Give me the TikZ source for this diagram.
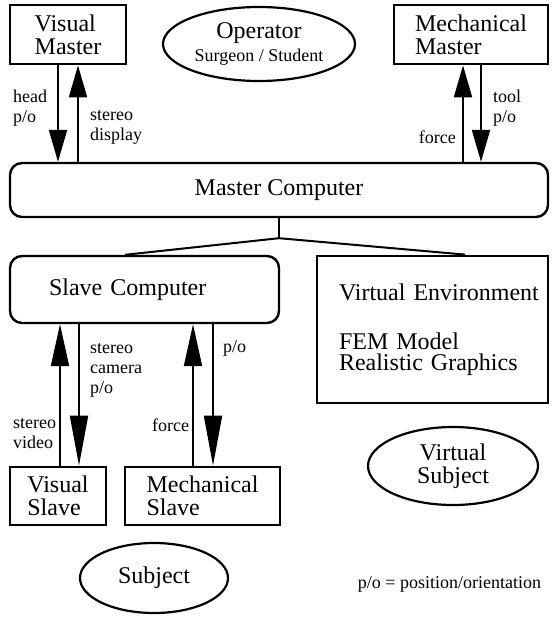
\documentclass[tikz,border=0pt]{standalone}
\usepackage{fontspec}
\setmainfont{Liberation Serif}
\usetikzlibrary{positioning, arrows.meta, shapes.geometric}

\begin{document}
\begin{tikzpicture}[
        x=1pt, y=-1pt,
        box/.style={rectangle, draw, line width=2.8pt, align=left, inner sep=0pt, font=\fontsize{24}{23}\selectfont},
        computer/.style={rectangle, draw, rounded corners=12pt, line width=2.4pt, align=left, inner sep=0pt, font=\fontsize{24}{23}\selectfont},
        oval/.style={ellipse, draw, line width=2.2pt, align=center, inner sep=0pt, font=\fontsize{24}{23}\selectfont},
        sig/.style={align=left, inner sep=0pt, font=\fontsize{18}{20}\selectfont},
        arrow/.style={-{Triangle[length=32pt, width=18pt]}, line width=2pt},
        longarrow/.style={-{Triangle[length=#1, width=18pt]}, line width=2pt},
        longarrow/.default=42pt,
        link/.style={line width=2pt}
    ]
    \useasboundingbox (0,0) rectangle (553,617);

    % Blocks
    \node[box, minimum width=116pt, minimum height=59pt] (vm) at (68,34.5) {Visual\\Master};
    \node[oval, minimum width=192pt, minimum height=74pt] (op) at (259,44) {Operator\\{\fontsize{18}{20}\selectfont Surgeon / Student}};
    \node[box, minimum width=154pt, minimum height=59pt] (mm) at (471,34.5) {Mechanical\\Master};
    \node[computer, minimum width=538pt, minimum height=54pt] (mc) at (279,190) {Master Computer};
    \node[computer, inner xsep=39pt, text width=191pt, minimum height=67pt] (sc) at (144.5,289.5) {Slave Computer};
    \node[box, inner xsep=22pt, text width=187pt, minimum height=147pt] (ve) at (432.5,329.5)
        {\mbox{Virtual Environment}\\[26pt]FEM Model\\[-2pt]\mbox{Realistic Graphics}};
    \node[box, minimum width=96pt, minimum height=58pt] (vs) at (58,496) {Visual\\Slave};
    \node[box, minimum width=155pt, minimum height=58pt] (ms) at (202.5,496) {Mechanical\\Slave};
    \node[oval, minimum width=170pt, minimum height=78pt] (vsub) at (453,466) {Virtual\\Subject};
    \node[oval, minimum width=148pt, minimum height=70pt] (sub) at (154,578) {Subject};

    % Signals
    \node[sig, anchor=west] (hp) at (13,108) {head\\p/o};
    \node[sig, anchor=west] (sd) at (90,127) {stereo\\display};
    \node[sig, anchor=west] (tp) at (493,108) {tool\\p/o};
    \node[sig, anchor=east] (fm) at (456,137) {force};
    \node[sig, anchor=west] (scp) at (90,370) {stereo\\camera\\p/o};
    \node[sig, anchor=west] (po) at (223,348) {p/o};
    \node[sig, anchor=west] (sv) at (13,434) {stereo\\video};
    \node[sig, anchor=west] (fs) at (152,425) {force};
    \node[sig] (note) at (449.5,584) {p/o = position/orientation};

    % Arrows
    \draw[arrow] (58,0 |- vm.south) -- (58,0 |- mc.north);
    \draw[arrow] (78,0 |- mc.north) -- (78,0 |- vm.south);
    \draw[arrow] (463,0 |- mc.north) -- (463,0 |- mm.south);
    \draw[arrow] (481,0 |- mm.south) -- (481,0 |- mc.north);
    \draw[longarrow] (60,0 |- vs.north) -- (60,0 |- sc.south);
    \draw[longarrow=50pt] (79,0 |- sc.south) -- (79,0 |- vs.north);
    \draw[longarrow] (193,0 |- ms.north) -- (193,0 |- sc.south);
    \draw[longarrow=50pt] (213,0 |- sc.south) -- (213,0 |- ms.north);

    % Links
    \draw[link] (mc.south) -- ++(0,20) coordinate (split);
    \draw[link] (125,0 |- sc.north) -- (split) -- (465,0 |- ve.north);
\end{tikzpicture}
\end{document}
